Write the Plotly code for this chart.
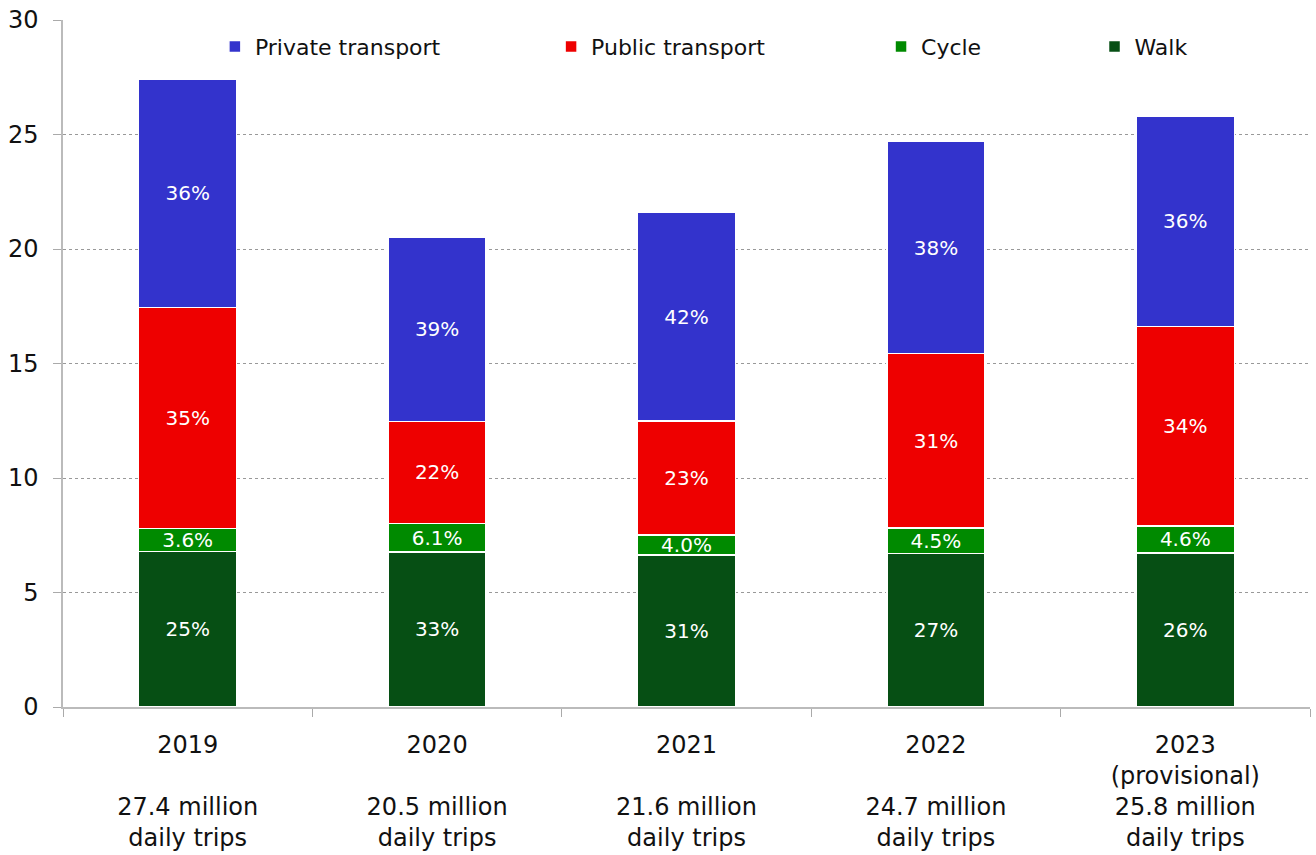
import plotly.graph_objects as go

# Daily trips by main mode, millions
years = ["2019", "2020", "2021", "2022", "2023"]
year_labels = ["2019", "2020", "2021", "2022", "2023<br>(provisional)"]
walk = [6.80, 6.77, 6.64, 6.70, 6.72]
cycle = [0.99, 1.25, 0.87, 1.11, 1.19]
public = [9.66, 4.45, 4.98, 7.62, 8.70]
private = [9.95, 8.03, 9.11, 9.27, 9.19]

totals = [w + c + pu + pr for w, c, pu, pr in zip(walk, cycle, public, private)]

tick_text = []
for lab, tot in zip(year_labels, totals):
    spacer = "" if "<br>" in lab else "<br> "
    tick_text.append(f"{lab}{spacer}<br>{tot:.1f} million<br>daily trips")

FONT = "'DejaVu Sans', sans-serif"

series = [
    ("Walk", walk, "#064f14", "{:.0f}%", "legend4", 0.8272),
    ("Cycle", cycle, "#008a00", "{:.1f}%", "legend3", 0.6560),
    ("Public transport", public, "#ee0000", "{:.0f}%", "legend2", 0.3914),
    ("Private transport", private, "#3333cc", "{:.0f}%", "legend", 0.1218),
]

fig = go.Figure()
legend_layout = {}
for name, vals, color, fmt, leg, lx in series:
    text = [fmt.format(100 * v / t) for v, t in zip(vals, totals)]
    fig.add_trace(go.Bar(
        x=years, y=vals, name=name, showlegend=True,
        marker=dict(color=color, line=dict(color="white", width=1.5)),
        text=text, textposition="inside", insidetextanchor="middle",
        textangle=0, textfont=dict(color="white", size=20, family=FONT),
        legend=leg, hoverinfo="skip",
    ))
    legend_layout[leg] = dict(
        x=lx, y=0.961, xanchor="left", yanchor="middle",
        orientation="h", bgcolor="rgba(0,0,0,0)",
        font=dict(size=22, family=FONT, color="#111"),
        itemwidth=30, visible=True,
    )

fig.update_layout(
    width=1316, height=855,
    margin=dict(l=63, r=6, t=20, b=148),
    barmode="stack", bargap=0.607,
    plot_bgcolor="white", paper_bgcolor="white",
    font=dict(family=FONT, color="#111"),
    uniformtext=dict(minsize=20, mode="show"),
    showlegend=True,
    **legend_layout,
)

fig.update_xaxes(
    type="category", tickmode="array", tickvals=years, ticktext=tick_text,
    tickson="boundaries", ticks="outside", ticklen=8, tickcolor="#aaaaaa",
    ticklabelstandoff=15, automargin=False,
    showline=True, linecolor="#bbbbbb", linewidth=1.5,
    showgrid=False, tickfont=dict(size=24, family=FONT, color="#111"),
)
fig.update_yaxes(
    range=[0, 30], tickvals=[0, 5, 10, 15, 20, 25, 30],
    ticks="outside", ticklen=8, tickcolor="#aaaaaa",
    ticklabelstandoff=10, automargin=False,
    showline=True, linecolor="#bbbbbb", linewidth=1.5,
    showgrid=True, gridcolor="#999999", griddash="dot", gridwidth=1,
    zeroline=False, tickfont=dict(size=24, family=FONT, color="#111"),
)

fig.write_html("out.html")
